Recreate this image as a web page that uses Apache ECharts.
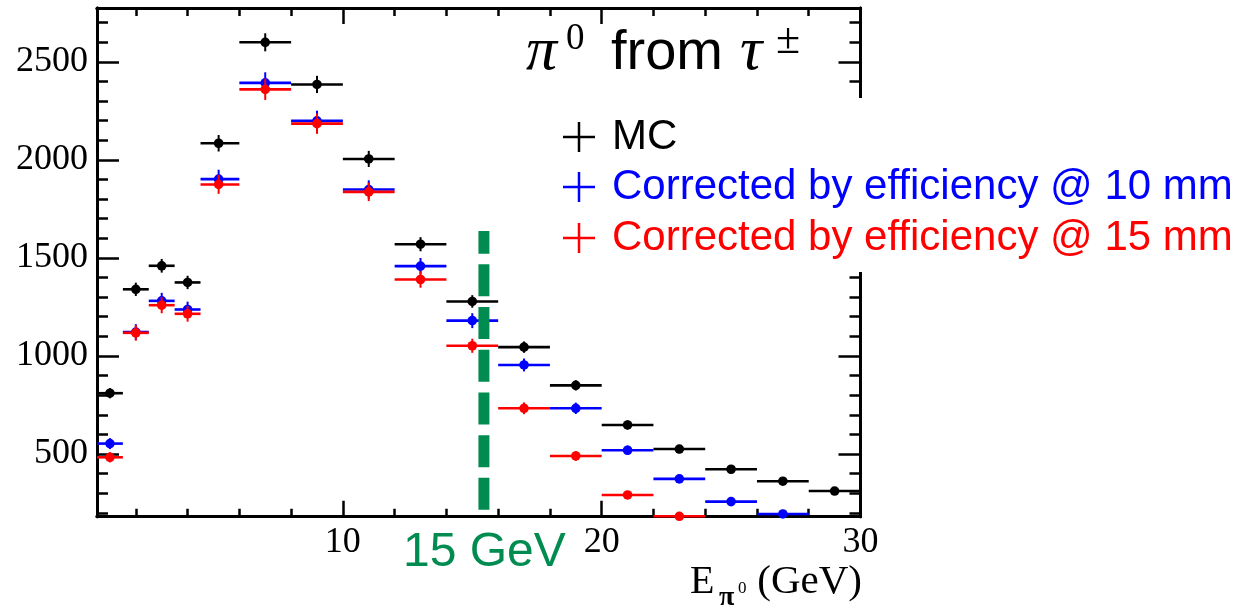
<!DOCTYPE html>
<html>
<head>
<meta charset="utf-8">
<script src="https://cdn.jsdelivr.net/npm/echarts@6/dist/echarts.min.js"></script>
<style>
  html, body { margin: 0; padding: 0; background: #fff; }
  #main { width: 1257px; height: 611px; }
</style>
</head>
<body>
<div id="main"></div>
<script>
// bins of E_pi0 (GeV)
var binLow    = [0.5, 1.5, 2.5, 3.5, 4.5, 6, 8, 10, 12, 14, 16, 18, 20, 22, 24, 26, 28];
var binHigh   = [1.5, 2.5, 3.5, 4.5, 6, 8, 10, 12, 14, 16, 18, 20, 22, 24, 26, 28, 30];
var binCenter = [1, 2, 3, 4, 5.2, 7, 9, 11, 13, 15, 17, 19, 21, 23, 25, 27, 29];

// MC
var mcValues = [810, 1340, 1460, 1375, 2085, 2600, 2385, 2005, 1570, 1278, 1045, 850, 648, 525, 422, 361, 311];
var mcErrors = [26, 34, 35, 34, 42, 46, 44, 41, 36, 32, 29, 26, 23, 21, 19, 17, 16];
// corrected by efficiency @ 10 mm
var eff10Values = [553, 1122, 1281, 1237, 1902, 2393, 2199, 1849, 1458, 1180, 954, 733, 519, 373, 257, 194, null];
var eff10Errors = [28, 40, 41, 40, 48, 54, 52, 47, 42, 38, 33, 29, 24, 21, 18, 15, null];
// corrected by efficiency @ 15 mm
var eff15Values = [483, 1118, 1259, 1215, 1875, 2360, 2185, 1837, 1390, 1052, 733, 490, 291, 182, null, null, null];
var eff15Errors = [26, 40, 41, 40, 48, 54, 52, 47, 42, 36, 30, 25, 19, 15, null, null, null];

var cutX = 15.45;          // "15 GeV" line
var cutRange = [215, 1637];

var yMajor = [500, 1000, 1500, 2000, 2500];
var yMinor = [];
for (var v = 200; v <= 2700; v += 100) yMinor.push(v);
var xMinor = [2, 4, 6, 8, 12, 14, 16, 18, 22, 24, 26, 28];
var xMajor = [10, 20];
var xLabels = [10, 20, 30];

function rows(values, errors) {
  var out = [];
  for (var i = 0; i < values.length; i++) {
    if (values[i] == null) continue;
    out.push([binLow[i], binHigh[i], binCenter[i], values[i], errors[i]]);
  }
  return out;
}

function renderBin(params, api) {
  var y = api.value(3), e = api.value(4);
  var lo = api.coord([api.value(0), y]);
  var hi = api.coord([api.value(1), y]);
  var c = api.coord([api.value(2), y]);
  var top = api.coord([api.value(2), y + e]);
  var bot = api.coord([api.value(2), y - e]);
  var color = api.visual('color');
  return {
    type: 'group',
    children: [
      { type: 'line', shape: { x1: lo[0], y1: lo[1], x2: hi[0], y2: hi[1] }, style: { stroke: color, lineWidth: 2.6 } },
      { type: 'line', shape: { x1: c[0], y1: top[1], x2: c[0], y2: bot[1] }, style: { stroke: color, lineWidth: 2 } },
      { type: 'circle', shape: { cx: c[0], cy: c[1], r: 4.8 }, style: { fill: color } }
    ]
  };
}

function plain(v) { return String(v); }

function xAx(pos, ticks, len, labels) {
  return {
    type: 'value', min: 0.5, max: 30, position: pos,
    axisLine: { show: true, lineStyle: { color: '#000', width: 3 } },
    axisTick: { show: true, inside: true, length: len, customValues: ticks, lineStyle: { color: '#000', width: 2.5 } },
    axisLabel: labels ? { show: true, customValues: labels, formatter: plain, color: '#000', fontFamily: 'Liberation Serif', fontSize: 36, margin: 8 } : { show: false },
    splitLine: { show: false }
  };
}
function yAx(pos, ticks, len, labels) {
  return {
    type: 'value', min: 180, max: 2775, position: pos,
    axisLine: { show: true, lineStyle: { color: '#000', width: 3 } },
    axisTick: { show: true, inside: true, length: len, customValues: ticks, lineStyle: { color: '#000', width: 2.5 } },
    axisLabel: labels ? { show: true, customValues: labels, formatter: plain, color: '#000', fontFamily: 'Liberation Serif', fontSize: 36, margin: 9, padding: [4, 0, 0, 0] } : { show: false },
    splitLine: { show: false }
  };
}

var legendRows = [
  { text: 'MC', color: '#000', y: 137 },
  { text: 'Corrected by efficiency @ 10 mm', color: '#0000ff', y: 187 },
  { text: 'Corrected by efficiency @ 15 mm', color: '#ff0000', y: 238 }
];

var graphics = [
  // legend box (hides right frame behind it)
  { type: 'rect', z: 50, shape: { x: 555, y: 98, width: 702, height: 174 }, style: { fill: '#fff' } },
  // title
  { type: 'text', z: 60, style: { text: 'π', x: 526, y: 53, font: 'italic 62px "Liberation Serif"', fill: '#000', verticalAlign: 'middle' } },
  { type: 'text', z: 60, style: { text: '0', x: 566, y: 39, font: '37px "Liberation Serif"', fill: '#000', verticalAlign: 'middle' } },
  { type: 'text', z: 60, style: { text: 'from', x: 611, y: 54, font: '56px "Liberation Sans"', fill: '#000', verticalAlign: 'middle' } },
  { type: 'text', z: 60, style: { text: 'τ', x: 740, y: 53, font: 'italic 62px "Liberation Serif"', fill: '#000', verticalAlign: 'middle' } },
  { type: 'text', z: 60, style: { text: '±', x: 776, y: 41, font: '44px "Liberation Serif"', fill: '#000', verticalAlign: 'middle' } },
  // cut label
  { type: 'text', z: 60, style: { text: '15 GeV', x: 403, y: 553, font: '48px "Liberation Sans"', fill: '#008c50', verticalAlign: 'middle' } },
  // x axis title
  { type: 'text', z: 60, style: { text: 'E', x: 690, y: 582, font: '40px "Liberation Serif"', fill: '#000', verticalAlign: 'middle' } },
  { type: 'text', z: 60, style: { text: 'π', x: 719, y: 598, font: 'bold 28px "Liberation Serif"', fill: '#000', verticalAlign: 'middle' } },
  { type: 'text', z: 60, style: { text: '0', x: 738, y: 589, font: '17px "Liberation Serif"', fill: '#000', verticalAlign: 'middle' } },
  { type: 'text', z: 60, style: { text: '(GeV)', x: 862, y: 582, font: '41px "Liberation Serif"', fill: '#000', align: 'right', verticalAlign: 'middle' } }
];
legendRows.forEach(function (r) {
  graphics.push({ type: 'line', z: 60, shape: { x1: 563, y1: r.y, x2: 595, y2: r.y }, style: { stroke: r.color, lineWidth: 2.5 } });
  graphics.push({ type: 'line', z: 60, shape: { x1: 579, y1: r.y - 15, x2: 579, y2: r.y + 15 }, style: { stroke: r.color, lineWidth: 2.5 } });
  graphics.push({ type: 'text', z: 60, style: { text: r.text, x: 612, y: r.y, font: '42px "Liberation Sans"', fill: r.color, verticalAlign: 'middle' } });
});

var chart = echarts.init(document.getElementById('main'));
chart.setOption({
  animation: false,
  backgroundColor: '#fff',
  grid: { left: 97, top: 8, width: 763.5, height: 508.7 },
  xAxis: [
    xAx('bottom', xMinor, 8, null),
    xAx('bottom', xMajor, 16, xLabels),
    xAx('top', xMinor, 8, null),
    xAx('top', xMajor, 16, null)
  ],
  yAxis: [
    yAx('left', yMinor, 11, null),
    yAx('left', yMajor, 22, yMajor),
    yAx('right', yMinor, 11, null),
    yAx('right', yMajor, 22, null)
  ],
  series: [
    { type: 'custom', name: 'MC', color: '#000', renderItem: renderBin, encode: { x: [0, 1, 2], y: [3] }, data: rows(mcValues, mcErrors), z: 3 },
    { type: 'custom', name: 'eff10', color: '#0000ff', renderItem: renderBin, encode: { x: [0, 1, 2], y: [3] }, data: rows(eff10Values, eff10Errors), z: 4 },
    { type: 'custom', name: 'eff15', color: '#ff0000', renderItem: renderBin, encode: { x: [0, 1, 2], y: [3] }, data: rows(eff15Values, eff15Errors), z: 5 },
    {
      type: 'line', name: 'cut', z: 10, symbol: 'none', silent: true,
      data: [[cutX, cutRange[0]], [cutX, cutRange[1]]],
      lineStyle: { color: '#008c50', width: 11, type: [32, 10.7], cap: 'butt' }
    }
  ],
  graphic: graphics
});
</script>
</body>
</html>
